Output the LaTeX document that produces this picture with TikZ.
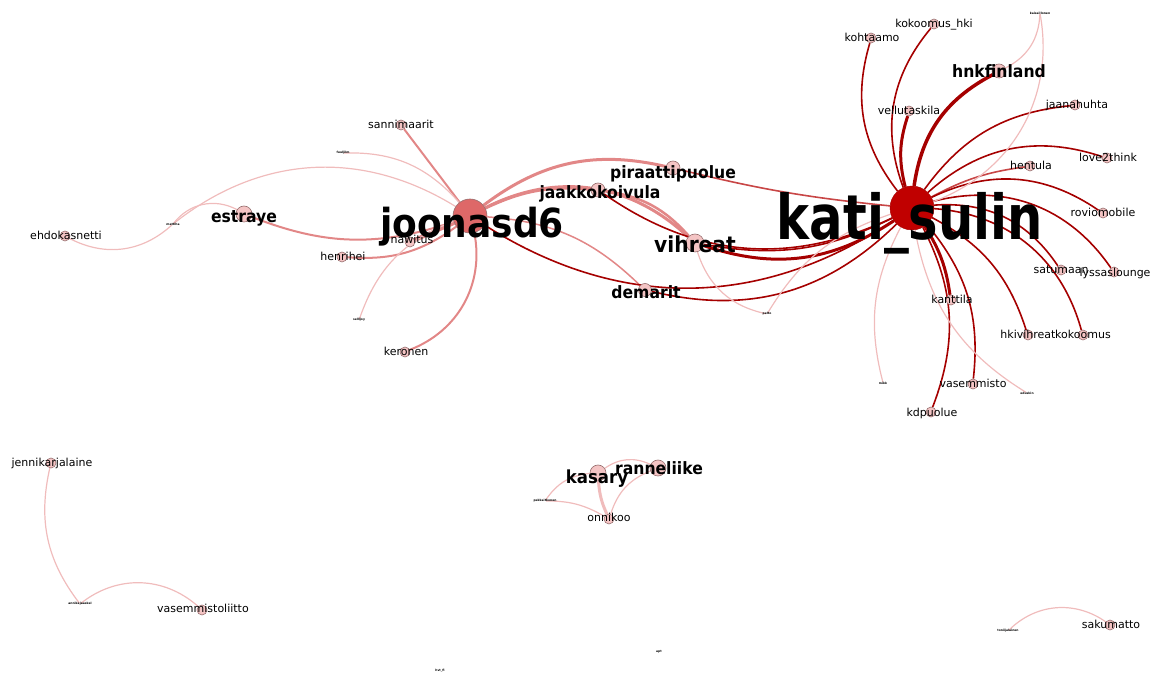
\documentclass[tikz,border=0pt]{standalone}
\usepackage{fontspec}
\setmainfont{DejaVu Sans}
\usepackage{graphicx}
\usetikzlibrary{backgrounds}
\definecolor{nodefill}{RGB}{244,196,196}
\definecolor{nodeline}{RGB}{150,110,110}
\definecolor{jfill}{RGB}{222,104,104}
\definecolor{kfill}{RGB}{192,0,0}
\definecolor{jpink}{RGB}{226,135,135}
\definecolor{lpink}{RGB}{240,188,188}
\definecolor{mred}{RGB}{200,70,70}
\definecolor{kred}{RGB}{165,0,0}
\newcommand\sx[2]{\scalebox{#1}[1]{#2}}
\begin{document}
\begin{tikzpicture}[x=1pt,y=1pt,
  nd/.style={circle,draw=nodeline,fill=nodefill,line width=0.6pt,inner sep=0pt,minimum size=#1},
  nd/.default=10,
  tn/.style={circle,inner sep=0pt,minimum size=2pt},
  sl/.style={font=\fontsize{11}{11}\selectfont,anchor=base,inner sep=0pt},
  bl/.style={font=\fontsize{17}{17}\selectfont\bfseries,anchor=base,inner sep=0pt},
  tl/.style={font=\fontsize{3}{3}\selectfont\bfseries,inner sep=0pt},
  je/.style={draw=jpink,line width=2pt},
  le/.style={draw=lpink,line width=1.2pt},
  me/.style={draw=mred,line width=1.6pt},
  ke/.style={draw=kred,line width=1.6pt}]
\useasboundingbox (0,0) rectangle (1163,675);
% ---- circles ----
\node[circle,draw=nodeline,fill=jfill,line width=0.6pt,minimum size=34pt,inner sep=0pt] (J) at (470,459) {};
\node[circle,draw=kred,fill=kfill,minimum size=44pt,inner sep=0pt] (Kt) at (912,467) {};
\node[nd=14] (P) at (673,507) {};
\node[nd=14] (Jk) at (598,485) {};
\node[nd=18] (V) at (695,432) {};
\node[nd=13] (D) at (645,385) {};
\node[nd=16] (E) at (244,461) {};
\node[nd] (S) at (401,550) {};
\node[nd] (Hh) at (342,418) {};
\node[nd] (N) at (410,433) {};
\node[nd] (Kr) at (405,323) {};
\node[nd] (Eh) at (65,439) {};
\node[tn] (tA) at (343,522) {};
\node[tn] (tB) at (173,451) {};
\node[tn] (tC) at (359,355) {};
\node[tn] (tD) at (767,361) {};
\node[nd] (Kh) at (871,637) {};
\node[nd] (Kk) at (934,651) {};
\node[tn] (tTop) at (1040,662) {};
\node[nd=14] (Hn) at (999,604) {};
\node[nd] (Vt) at (909,564) {};
\node[nd] (Jh) at (1075,570) {};
\node[nd] (L2) at (1107,517) {};
\node[nd] (He) at (1030,509) {};
\node[nd] (Rm) at (1103,462) {};
\node[nd] (Sa) at (1061,405) {};
\node[nd] (Ly) at (1114,403) {};
\node[nd] (Kn) at (951,375) {};
\node[nd] (Hv) at (1028,340) {};
\node[nd] (Ko) at (1083,340) {};
\node[nd] (Vm) at (973,291) {};
\node[nd] (Kd) at (931,263) {};
\node[tn] (tE) at (883,292) {};
\node[tn] (tF) at (1027,282) {};
\node[nd] (Jn) at (51,212) {};
\node[tn] (tG) at (80,71) {};
\node[nd] (Vl) at (202,65) {};
\node[nd=16] (Ka) at (598,202) {};
\node[nd=16] (R) at (658,207) {};
\node[nd] (O) at (609,156) {};
\node[tn] (tH) at (545,174) {};
\node[tn] (tI) at (1008,44) {};
\node[nd] (Sk) at (1110,50) {};
\node[tn] (tJ) at (659,23) {};
\node[tn] (tK) at (440,3) {};
% ---- edges ----
\begin{pgfonlayer}{background}
\draw[je] (J) -- (S);
\draw[le] (tA) to[bend left=25] (J);
\draw[le] (tB) to[bend left=35] (J);
\draw[le] (tB) to[bend left=40] (E);
\draw[le] (Eh) to[bend right=35] (tB);
\draw[je] (E) to[bend right=20] (J);
\draw[je] (Hh) to[bend right=20] (J);
\draw[je,line width=4pt] (N) -- (J);
\draw[le] (tC) to[bend left=25] (J);
\draw[je] (J) to[bend left=40] (Kr);
\draw[je,line width=3pt] (J) to[bend left=25] (P);
\draw[je,line width=2.5pt] (J) to[bend left=15] (Jk);
\draw[je,line width=3pt] (J) to[bend left=35] (V);
\draw[je,line width=2.5pt] (Jk) to[bend left=20] (V);
\draw[je,line width=1.5pt] (J) to[bend left=20] (D);
\draw[ke] (J) to[bend right=33] (Kt);
\draw[ke] (D) to[bend right=29] (Kt);
\draw[me] (P) to[bend right=4] (Kt);
\draw[ke] (Jk) to[bend right=30] (Kt);
\draw[ke,line width=3pt] (V) to[bend right=26] (Kt);
\draw[ke,line width=1.6pt] (V) to[bend right=18] (Kt);
\draw[le] (V) to[bend right=30] (tD);
\draw[le] (tD) to[bend left=20] (Kt);
\draw[ke] (Kt) to[bend left=27] (Kh);
\draw[ke] (Kt) to[bend left=30] (Kk);
\draw[ke,line width=3pt] (Kt) to[bend left=16] (Vt);
\draw[ke,line width=3.5pt] (Kt) to[bend left=27] (Hn);
\draw[ke] (Kt) to[bend left=24] (Jh);
\draw[ke] (Kt) to[bend left=30] (L2);
\draw[me] (Kt) to[bend left=10] (He);
\draw[ke] (Kt) to[bend left=30] (Rm);
\draw[ke] (Kt) to[bend left=30] (Sa);
\draw[ke] (Kt) to[bend left=35] (Ly);
\draw[ke,line width=3pt] (Kt) to[bend left=12] (Kn);
\draw[ke] (Kt) to[bend left=22] (Hv);
\draw[ke] (Kt) to[bend left=35] (Ko);
\draw[ke] (Kt) to[bend left=23] (Vm);
\draw[ke] (Kt) to[bend left=24] (Kd);
\draw[le] (Kt) to[bend right=21] (tE);
\draw[le] (Kt) to[bend right=24] (tF);
\draw[le] (Kt) to[bend right=40] (tTop);
\draw[le] (Hn) to[bend right=30] (tTop);
\draw[le] (Jn) to[bend right=25] (tG);
\draw[le] (tG) to[bend left=40] (Vl);
\draw[le] (Ka) to[bend left=30] (R);
\draw[le] (tH) to[bend left=25] (Ka);
\draw[le] (R) to[bend right=25] (O);
\draw[le,line width=3pt] (Ka) to[bend right=10] (O);
\draw[le] (tH) to[bend left=15] (O);
\draw[le] (tI) to[bend left=40] (Sk);
\end{pgfonlayer}
% ---- labels ----
\node[anchor=base,inner sep=0pt,font=\fontsize{40}{40}\selectfont\bfseries] (lJ) at (472,437) {\sx{0.9}{joonasd6}};
\node[anchor=base,inner sep=0pt,font=\fontsize{62}{62}\selectfont\bfseries] (lKt) at (910,435) {\sx{0.8}{kati\_sulin}};
\node[bl] (lP) at (673,496) {\sx{0.92}{piraattipuolue}};
\node[bl] (lJk) at (600,476) {\sx{0.92}{jaakkokoivula}};
\node[bl,font=\fontsize{22}{22}\selectfont\bfseries] (lV) at (695,422) {\sx{0.92}{vihreat}};
\node[bl] (lD) at (646,376) {\sx{0.92}{demarit}};
\node[bl] (lE) at (244,452) {\sx{0.92}{estraye}};
\node[bl] (lHn) at (999,597) {\sx{0.92}{hnkfinland}};
\node[bl,font=\fontsize{18}{18}\selectfont\bfseries] (lKa) at (597,191) {\sx{0.92}{kasary}};
\node[bl] (lR) at (659,200) {\sx{0.92}{ranneliike}};
\node[sl] (lS) at (401,546) {sannimaarit};
\node[sl] (lEh) at (66,435) {ehdokasnetti};
\node[sl] (lHh) at (343,414) {henrihei};
\node[sl] (lN) at (412,431) {nawitus};
\node[sl] (lKr) at (406,319) {keronen};
\node[sl] (lKh) at (872,633) {kohtaamo};
\node[sl] (lKk) at (934,647) {kokoomus\_hki};
\node[sl] (lVt) at (909,560) {vellutaskila};
\node[sl] (lJh) at (1077,566) {jaanahuhta};
\node[sl] (lL2) at (1108,513) {love2think};
\node[sl] (lHe) at (1031,505) {hentula};
\node[sl] (lRm) at (1103,458) {roviomobile};
\node[sl] (lSa) at (1061,401) {satumaan};
\node[sl] (lLy) at (1115,398) {lyssaslounge};
\node[sl] (lKn) at (952,371) {kanttila};
\node[sl] (lHv) at (1028,336) {hkivihreat};
\node[sl] (lKo) at (1083,336) {kokoomus};
\node[sl] (lVm) at (973,287) {vasemmisto};
\node[sl] (lKd) at (932,258) {kdpuolue};
\node[sl] (lJn) at (52,208) {jennikarjalaine};
\node[sl] (lVl) at (203,62) {vasemmistoliitto};
\node[sl] (lO) at (609,153) {onnikoo};
\node[sl] (lSk) at (1111,46) {sakumatto};
\node[tl] at (tA) {fuuljilm};
\node[tl] at (tB) {mattiha};
\node[tl] at (tC) {sellijoy};
\node[tl] at (tD) {pelto};
\node[tl] at (tTop) {kaisaillonen};
\node[tl] at (tE) {mikk};
\node[tl] at (tF) {eduskin};
\node[tl] at (tG) {annikajaaskel};
\node[tl] at (tH) {pekkaitkonen};
\node[tl] at (tI) {toniijalainen};
\node[tl] at (tJ) {apt};
\node[tl,anchor=south] at (tK) {hvt\_fi};
\end{tikzpicture}
\end{document}
